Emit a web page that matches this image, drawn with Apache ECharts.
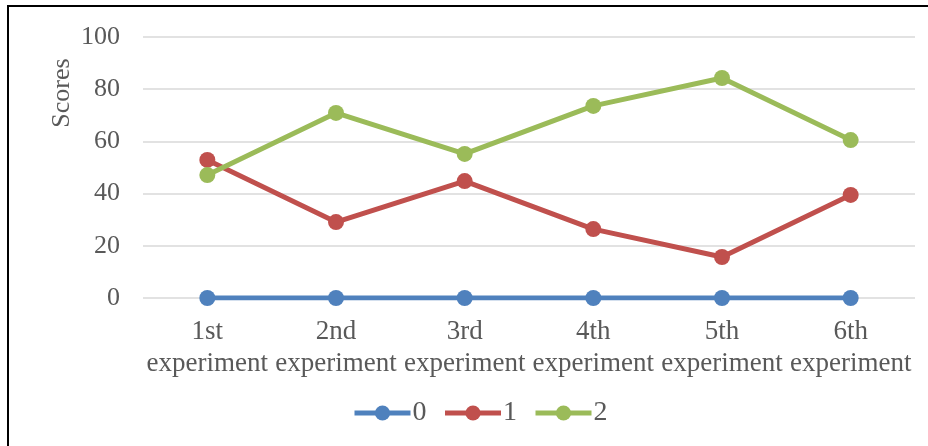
<!DOCTYPE html>
<html>
<head>
<meta charset="utf-8">
<script src="https://cdn.jsdelivr.net/npm/echarts@6/dist/echarts.min.js"></script>
<style>
  html, body { margin: 0; padding: 0; background: #fff; }
  #chart { width: 928px; height: 446px; }
</style>
</head>
<body>
<div id="chart"></div>
<script>
const categories = ['1st\nexperiment', '2nd\nexperiment', '3rd\nexperiment', '4th\nexperiment', '5th\nexperiment', '6th\nexperiment']
const series0 = [0, 0, 0, 0, 0, 0]
const series1 = [52.9, 29.1, 44.8, 26.4, 15.7, 39.5]
const series2 = [47.1, 70.9, 55.2, 73.6, 84.3, 60.5]
const yTicks = { min: 0, max: 100, interval: 20 }

const FONT = '"Liberation Serif", "Times New Roman", serif'
const TEXT = '#595959'

const chart = echarts.init(document.getElementById('chart'))

const lineSeries = (name, data, color) => ({
  name,
  type: 'line',
  data,
  symbol: 'circle',
  symbolSize: 16,
  lineStyle: { width: 5, color },
  itemStyle: { color },
  emphasis: { disabled: true },
  animation: false
})

chart.setOption({
  backgroundColor: '#fff',
  graphic: [
    {
      type: 'rect',
      shape: { x: 8, y: 6, width: 940, height: 460 },
      style: { fill: 'none', stroke: '#000', lineWidth: 2 }
    },
    {
      type: 'text',
      x: 62,
      y: 93,
      rotation: Math.PI / 2,
      style: {
        text: 'Scores',
        fill: TEXT,
        font: '26px ' + FONT,
        align: 'center',
        verticalAlign: 'middle'
      }
    }
  ],
  grid: {
    left: 143,
    right: 13,
    top: 37,
    bottom: 148
  },
  legend: {
    bottom: 14,
    left: 347,
    itemWidth: 56,
    itemHeight: 19,
    itemGap: 16,
    data: ['0', '1', '2'],
    lineStyle: { width: 5 },
    textStyle: { color: TEXT, fontFamily: FONT, fontSize: 28, padding: [0, 0, 0, -3] }
  },
  xAxis: {
    type: 'category',
    data: categories,
    boundaryGap: true,
    axisLine: { show: false },
    axisTick: { show: false },
    axisLabel: {
      color: TEXT,
      fontFamily: FONT,
      fontSize: 27,
      lineHeight: 32,
      margin: 18,
      interval: 0
    }
  },
  yAxis: {
    type: 'value',
    min: yTicks.min,
    max: yTicks.max,
    interval: yTicks.interval,
    axisLine: { show: false },
    axisTick: { show: false },
    axisLabel: {
      color: TEXT,
      fontFamily: FONT,
      fontSize: 26,
      margin: 23
    },
    splitLine: { lineStyle: { color: '#d9d9d9', width: 1.5 } }
  },
  series: [
    lineSeries('0', series0, '#4f81bd'),
    lineSeries('1', series1, '#c0504d'),
    lineSeries('2', series2, '#9bbb59')
  ]
})
</script>
</body>
</html>
